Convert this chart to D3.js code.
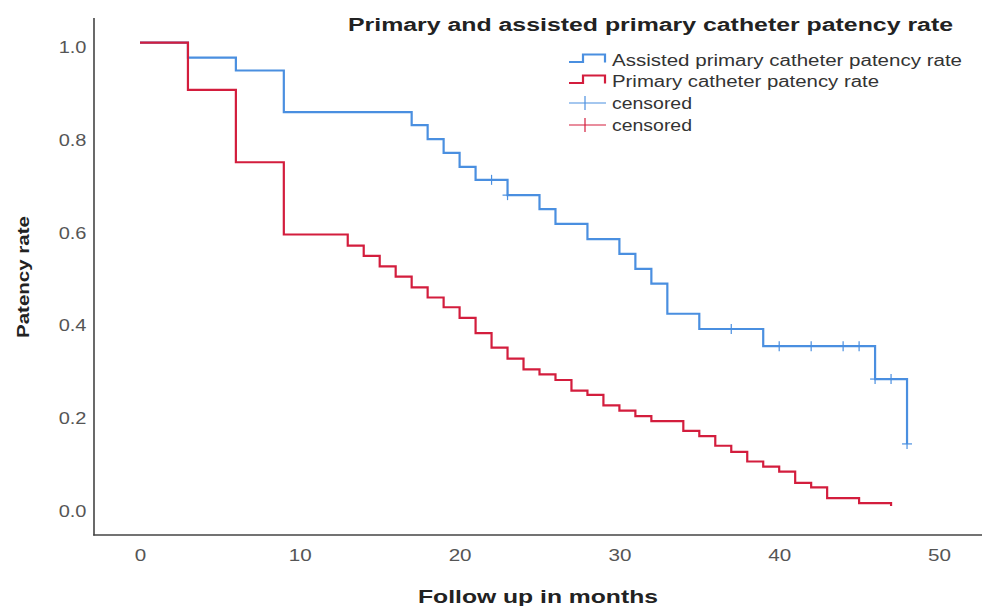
<!DOCTYPE html>
<html><head><meta charset="utf-8">
<script src="https://cdn.jsdelivr.net/npm/d3@7"></script>
<style>
html,body{margin:0;padding:0;background:#fff;}
svg{display:block;font-family:"Liberation Sans",Arial,sans-serif;}
</style></head>
<body>
<svg id="chart" width="982" height="606"></svg>
<script>
// ---- data ----
const title = "Primary and assisted primary catheter patency rate";
const xTicks = [0, 10, 20, 30, 40, 50];
const yTicks = [0.0, 0.2, 0.4, 0.6, 0.8, 1.0];
const legendLabels = ["Assisted primary catheter patency rate", "Primary catheter patency rate", "censored", "censored"];

const assistedTimes  = [0, 3, 6, 9, 17, 18, 19, 20, 21, 23, 25, 26, 28, 30, 31, 32, 33, 35, 39, 46, 48];
const assistedValues = [1, 0.968, 0.940, 0.850, 0.822, 0.792, 0.762, 0.732, 0.704, 0.671, 0.641, 0.609, 0.576, 0.544, 0.512, 0.480, 0.415, 0.382, 0.345, 0.274, 0.134];
const assistedCensorTimes = [22, 23, 37, 40, 42, 44, 45, 46, 47, 48];

const primaryTimes  = [0, 3, 6, 9, 13, 14, 15, 16, 17, 18, 19, 20, 21, 22, 23, 24, 25, 26, 27, 28, 29, 30, 31, 32, 34, 35, 36, 37, 38, 39, 40, 41, 42, 43, 45, 47];
const primaryValues = [1, 0.898, 0.742, 0.586, 0.562, 0.540, 0.517, 0.495, 0.472, 0.450, 0.429, 0.406, 0.373, 0.342, 0.318, 0.295, 0.284, 0.272, 0.249, 0.240, 0.217, 0.206, 0.194, 0.183, 0.162, 0.151, 0.130, 0.117, 0.096, 0.085, 0.074, 0.050, 0.040, 0.017, 0.006, 0.0];
const primaryCensorTimes = [];

// ---- styles ----
const BLUE = "#4a8fe0";
const RED = "#d31d3d";
const AXIS = "#444";

const svg = d3.select("#chart");
const x = d3.scaleLinear().domain([0, 50]).range([140, 939]);
const y = d3.scaleLinear().domain([0, 1]).range([506, 42.7]);

function valueAt(times, values, t) {
  let v = values[0];
  for (let i = 0; i < times.length; i++) if (times[i] <= t) v = values[i];
  return v;
}

// axes lines
svg.append("line").attr("x1", 94).attr("x2", 94).attr("y1", 18).attr("y2", 535.5)
  .attr("stroke", AXIS).attr("stroke-width", 1.6);
svg.append("line").attr("x1", 93.2).attr("x2", 982).attr("y1", 535).attr("y2", 535)
  .attr("stroke", AXIS).attr("stroke-width", 1.6);

// x axis tick labels
const gx = svg.append("g").attr("transform", "translate(0,535)")
  .call(d3.axisBottom(x).tickValues(xTicks).tickSize(0).tickPadding(14).tickFormat(d3.format("d")));
gx.select(".domain").remove();
gx.selectAll("text").attr("font-size", 16.5).attr("fill", "#555")
  .attr("font-family", "Liberation Sans, Arial, sans-serif").attr("transform", "scale(1.25,1)");

// y axis tick labels
const gy = svg.append("g").attr("transform", "translate(94,0)")
  .call(d3.axisLeft(y).tickValues(yTicks).tickSize(0).tickPadding(6).tickFormat(d3.format(".1f")));
gy.select(".domain").remove();
gy.selectAll("text").attr("font-size", 16).attr("fill", "#555")
  .attr("font-family", "Liberation Sans, Arial, sans-serif")
  .attr("transform", "translate(0,5) scale(1.25,1)");

// curves
const line = d3.line().x(d => x(d[0])).y(d => y(d[1])).curve(d3.curveStepAfter);
svg.append("path").datum(assistedTimes.map((t, i) => [t, assistedValues[i]]))
  .attr("d", line).attr("fill", "none").attr("stroke", BLUE).attr("stroke-width", 2.2);
svg.append("path").datum(primaryTimes.map((t, i) => [t, primaryValues[i]]))
  .attr("d", line).attr("fill", "none").attr("stroke", RED).attr("stroke-width", 2.2);

function censor(times, tv, vv, color) {
  const g = svg.append("g");
  times.forEach(t => {
    const cx = x(t), cy = y(valueAt(tv, vv, t));
    g.append("line").attr("x1", cx).attr("x2", cx).attr("y1", cy - 5).attr("y2", cy + 5)
      .attr("stroke", color).attr("stroke-width", 1.2);
    g.append("line").attr("x1", cx - 5).attr("x2", cx + 5).attr("y1", cy).attr("y2", cy)
      .attr("stroke", color).attr("stroke-width", 1.2);
  });
}
censor(assistedCensorTimes, assistedTimes, assistedValues, BLUE);
censor(primaryCensorTimes, primaryTimes, primaryValues, RED);

// title
svg.append("text").attr("x", 348).attr("y", 31).attr("font-size", 18).attr("font-weight", "bold")
  .attr("fill", "#222").attr("textLength", 605).attr("lengthAdjust", "spacingAndGlyphs").text(title);

// legend
const legRows = [60.5, 81.5, 103, 125];
const legColors = [BLUE, RED, BLUE, RED];
const legEnds = [962, 879, 692, 692];
legendLabels.forEach((lab, i) => {
  const cy = legRows[i];
  if (i < 2) {
    const p = d3.path();
    p.moveTo(569, cy + 1.5); p.lineTo(583, cy + 1.5); p.lineTo(583, cy - 6);
    p.lineTo(605, cy - 6); p.lineTo(605, cy + 2);
    svg.append("path").attr("d", p.toString()).attr("fill", "none").attr("stroke", legColors[i]).attr("stroke-width", 2.2);
  } else {
    svg.append("line").attr("x1", 569).attr("x2", 606).attr("y1", cy).attr("y2", cy)
      .attr("stroke", legColors[i]).attr("stroke-width", 1.2);
    svg.append("line").attr("x1", 585).attr("x2", 585).attr("y1", cy - 7).attr("y2", cy + 7)
      .attr("stroke", legColors[i]).attr("stroke-width", 1.2);
  }
  svg.append("text").attr("x", 612).attr("y", cy + 5.5).attr("font-size", 16).attr("fill", "#333")
    .attr("textLength", legEnds[i] - 612).attr("lengthAdjust", "spacingAndGlyphs").text(lab);
});

// axis titles
svg.append("text").attr("x", 418).attr("y", 603).attr("font-size", 18)
  .attr("font-weight", "bold").attr("fill", "#222")
  .attr("textLength", 240).attr("lengthAdjust", "spacingAndGlyphs").text("Follow up in months");
svg.append("text").attr("transform", "translate(29,338) rotate(-90)")
  .attr("font-size", 17).attr("font-weight", "bold").attr("fill", "#222")
  .attr("textLength", 122).attr("lengthAdjust", "spacingAndGlyphs").text("Patency rate");
</script>
</body></html>
